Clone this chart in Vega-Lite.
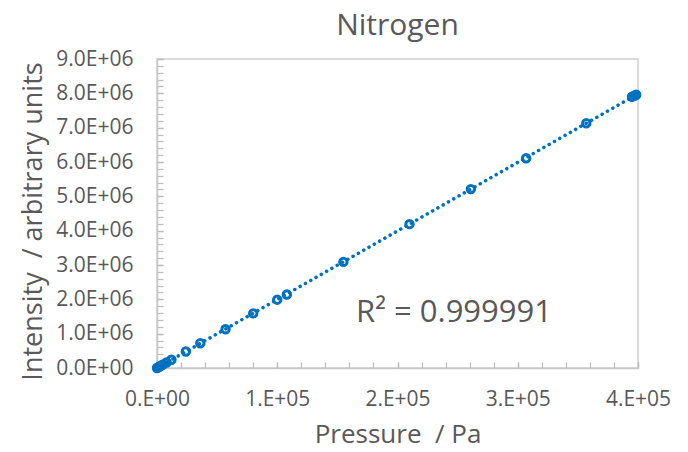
{
  "$schema": "https://vega.github.io/schema/vega-lite/v6.json",
  "autosize": "none",
  "width": 481,
  "height": 309,
  "padding": {"left": 157, "top": 59, "right": 50, "bottom": 84},
  "background": "white",
  "config": {
    "view": {"stroke": "#d0d0d0", "strokeWidth": 1.5},
    "font": "Open Sans"
  },
  "title": {"text": "Nitrogen", "fontSize": 30, "font": "Open Sans", "fontWeight": "normal", "color": "#595959", "offset": 7, "anchor": "middle"},
  "resolve": {"axis": {"x": "independent", "y": "independent"}},
  "datasets": {
    "points": [
      {"pressure": 0, "intensity": 0},
      {"pressure": 600, "intensity": 12000},
      {"pressure": 1200, "intensity": 25000},
      {"pressure": 2200, "intensity": 45000},
      {"pressure": 3200, "intensity": 65000},
      {"pressure": 5000, "intensity": 100000},
      {"pressure": 8000, "intensity": 160000},
      {"pressure": 12000, "intensity": 240000},
      {"pressure": 24000, "intensity": 480000},
      {"pressure": 36000, "intensity": 720000},
      {"pressure": 57000, "intensity": 1130000},
      {"pressure": 80000, "intensity": 1590000},
      {"pressure": 100000, "intensity": 1990000},
      {"pressure": 108000, "intensity": 2140000},
      {"pressure": 155000, "intensity": 3090000},
      {"pressure": 210000, "intensity": 4190000},
      {"pressure": 261000, "intensity": 5210000},
      {"pressure": 307000, "intensity": 6110000},
      {"pressure": 357000, "intensity": 7130000},
      {"pressure": 395000, "intensity": 7900000},
      {"pressure": 397000, "intensity": 7930000},
      {"pressure": 398500, "intensity": 7960000}
    ],
    "note": [
      {"pressure": 247000, "intensity": 1600000, "label": "R² = 0.999991"}
    ]
  },
  "layer": [
    {
      "data": {"name": "points"},
      "transform": [{"regression": "intensity", "on": "pressure", "method": "linear"}],
      "mark": {"type": "line", "color": "#0070C0", "strokeWidth": 3.5, "strokeDash": [0.1, 6], "strokeCap": "round"},
      "encoding": {
        "x": {
          "field": "pressure", "type": "quantitative",
          "scale": {"domain": [0, 400000], "nice": false},
          "axis": {
            "orient": "bottom", "title": null, "labels": false,
            "values": [0,20000,40000,60000,80000,100000,120000,140000,160000,180000,200000,220000,240000,260000,280000,300000,320000,340000,360000,380000,400000],
            "grid": false, "domainColor": "#c8c8c8", "domainWidth": 1.5,
            "tickColor": "#bdbdbd", "tickSize": -6, "tickWidth": 1.3
          }
        },
        "y": {
          "field": "intensity", "type": "quantitative",
          "scale": {"domain": [0, 9000000], "nice": false},
          "axis": {
            "orient": "left", "title": null, "labels": false,
            "values": [0,200000,400000,600000,800000,1000000,1200000,1400000,1600000,1800000,2000000,2200000,2400000,2600000,2800000,3000000,3200000,3400000,3600000,3800000,4000000,4200000,4400000,4600000,4800000,5000000,5200000,5400000,5600000,5800000,6000000,6200000,6400000,6600000,6800000,7000000,7200000,7400000,7600000,7800000,8000000,8200000,8400000,8600000,8800000,9000000],
            "grid": false, "domainColor": "#c8c8c8", "domainWidth": 1.5,
            "tickColor": "#bdbdbd", "tickSize": -6, "tickWidth": 1.3
          }
        }
      }
    },
    {
      "data": {"name": "points"},
      "mark": {"type": "point", "shape": "circle", "filled": false, "color": "#0070C0", "strokeWidth": 3, "size": 55, "opacity": 1},
      "encoding": {
        "x": {
          "field": "pressure", "type": "quantitative",
          "axis": {
            "orient": "bottom",
            "title": "Pressure \u00a0/ Pa",
            "titleFontSize": 26, "titleFont": "Open Sans", "titleFontWeight": "normal", "titleColor": "#595959", "titlePadding": 12,
            "values": [0,100000,200000,300000,400000],
            "labelExpr": "datum.value == 0 ? '0.E+00' : format(datum.value/100000, 'd') + '.E+05'",
            "labelFontSize": 21, "labelFont": "Open Sans", "labelColor": "#595959", "labelPadding": 26,
            "labelFlush": false, "labelOverlap": false,
            "grid": false, "domain": false,
            "tickColor": "#bdbdbd", "tickSize": -6, "tickWidth": 1.3
          }
        },
        "y": {
          "field": "intensity", "type": "quantitative",
          "axis": {
            "orient": "left",
            "title": "Intensity \u00a0/ arbitrary units",
            "titleFontSize": 27, "titleFont": "Open Sans", "titleFontWeight": "normal", "titleColor": "#595959", "titlePadding": 8, "titleY": 162,
            "values": [0,1000000,2000000,3000000,4000000,5000000,6000000,7000000,8000000,9000000],
            "labelExpr": "datum.value == 0 ? '0.0E+00' : format(datum.value/1000000, '.1f') + 'E+06'",
            "labelFontSize": 21, "labelFont": "Open Sans", "labelColor": "#595959", "labelPadding": 30,
            "labelFlush": false, "labelOverlap": false,
            "grid": false, "domain": false,
            "tickColor": "#bdbdbd", "tickSize": -6, "tickWidth": 1.3
          }
        }
      }
    },
    {
      "data": {"name": "note"},
      "mark": {"type": "text", "fontSize": 31, "font": "Open Sans", "color": "#595959", "align": "center", "baseline": "middle"},
      "encoding": {
        "x": {"field": "pressure", "type": "quantitative", "axis": null},
        "y": {"field": "intensity", "type": "quantitative", "axis": null},
        "text": {"field": "label"}
      }
    }
  ]
}
